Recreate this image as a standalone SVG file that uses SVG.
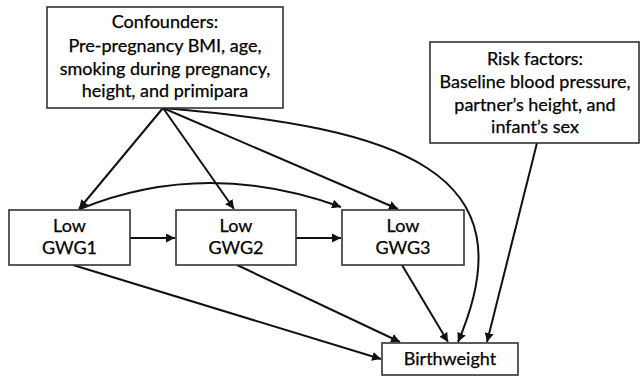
<svg xmlns="http://www.w3.org/2000/svg" width="640" height="377" viewBox="0 0 640 377">
<defs>
<marker id="ah" viewBox="0 0 10 10" refX="10" refY="5" markerWidth="4.5" markerHeight="4.5" orient="auto" markerUnits="strokeWidth">
<path d="M0,0 L10,5 L0,10 z" fill="#111"/>
</marker>
<style>
.box{fill:#fff;stroke:#333;stroke-width:1.6}
.t{font-family:Lato,"Liberation Sans",sans-serif;font-size:18px;fill:#000;stroke:#000;stroke-width:0.25;text-anchor:middle}
.e{fill:none;stroke:#111;stroke-width:2;marker-end:url(#ah)}
</style>
</defs>
<rect width="640" height="377" fill="#fff"/>
<g id="edges">
<path class="e" d="M163,108 L79,209"/>
<path class="e" d="M163,108 L234,209"/>
<path class="e" d="M163,108 L398,209"/>
<path class="e" d="M163,108 C400,128 532,170 458,342"/>
<path class="e" d="M80,209 Q205,158 341,207"/>
<path class="e" d="M130,238 L175,238"/>
<path class="e" d="M296,238 L341,238"/>
<path class="e" d="M73,265 L381,359"/>
<path class="e" d="M237,265 L400,342"/>
<path class="e" d="M402,265 L448,342"/>
<path class="e" d="M537,143 L487,342"/>
</g>
<g id="confounders">
<rect class="box" x="47" y="7" width="236" height="101"/>
<text class="t" x="165" y="28">Confounders:</text>
<text class="t" x="165" y="52">Pre-pregnancy BMI, age,</text>
<text class="t" x="165" y="75">smoking during pregnancy,</text>
<text class="t" x="165" y="97">height, and primipara</text>
</g>
<g id="risk">
<rect class="box" x="430" y="42" width="209" height="101"/>
<text class="t" x="535" y="65">Risk factors:</text>
<text class="t" x="535" y="88">Baseline blood pressure,</text>
<text class="t" x="535" y="111">partner’s height, and</text>
<text class="t" x="535" y="133">infant’s sex</text>
</g>
<g id="gwg1">
<rect class="box" x="9" y="210" width="121" height="55"/>
<text class="t" x="69.5" y="232">Low</text>
<text class="t" x="69.5" y="254">GWG1</text>
</g>
<g id="gwg2">
<rect class="box" x="176" y="210" width="120" height="55"/>
<text class="t" x="236" y="232">Low</text>
<text class="t" x="236" y="254">GWG2</text>
</g>
<g id="gwg3">
<rect class="box" x="342" y="210" width="122" height="55"/>
<text class="t" x="403" y="232">Low</text>
<text class="t" x="403" y="254">GWG3</text>
</g>
<g id="birthweight">
<rect class="box" x="382" y="343" width="136" height="32"/>
<text class="t" x="450" y="365">Birthweight</text>
</g>
</svg>
